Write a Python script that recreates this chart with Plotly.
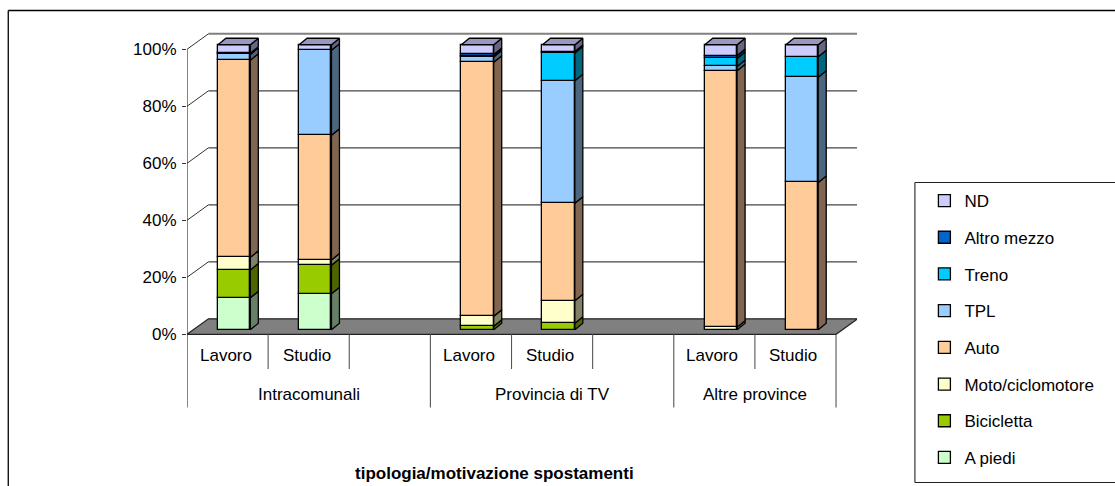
import plotly.graph_objects as go

# ---- data (percent of trips) ----
sub_labels = ["Lavoro", "Studio", "", "Lavoro", "Studio", "", "Lavoro", "Studio"]
group_labels = ["Intracomunali", "Provincia di TV", "Altre province"]
bar_slots = [0, 1, 3, 4, 6, 7]
series_names = ["A piedi", "Bicicletta", "Moto/ciclomotore", "Auto", "TPL", "Treno", "Altro mezzo", "ND"]
a_piedi = [11.2, 12.6, 0, 0, 0, 0]
bicicletta = [9.8, 10.0, 1.2, 2.3, 0, 0]
moto = [4.4, 1.9, 3.5, 7.9, 0.9, 0]
auto = [69.2, 43.7, 89.2, 34.2, 90.0, 51.7]
tpl = [2.0, 29.9, 1.8, 43.0, 1.5, 36.9]
treno = [0.2, 0, 0.2, 9.7, 2.8, 7.2]
altro = [0.2, 0, 0.7, 0.5, 1.0, 0]
nd = [3.0, 1.9, 3.4, 2.4, 3.8, 4.2]
series_values = [a_piedi, bicicletta, moto, auto, tpl, treno, altro, nd]
front_colors = ["#CCFFCC", "#99CC00", "#FFFFCC", "#FFCC99", "#99CCFF", "#00CCFF", "#0066CC", "#CCCCFF"]
side_colors = ["#668066", "#4D6600", "#808066", "#806650", "#4D6680", "#006680", "#003366", "#666680"]
top_color = "#9999BF"
y_ticks = [0, 20, 40, 60, 80, 100]

# ---- geometry of the fake 3-D box ----
FONT = "Liberation Sans, Arial, sans-serif"
FS = 17
L, R, T, B = 186.5, 857.5, 32.0, 408.0      # plot area in page pixels
PX_X, PX_Y, Y0 = 81.25, 2.85, 334.3         # pixels per category / per percent, 0% row
to_y = lambda pix: (Y0 - pix) / PX_Y
X_MIN, X_MAX = -0.5, -0.5 + (R - L) / PX_X
BACK_DX, BACK_DY = 21.5 / PX_X, 15.5 / PX_Y  # back wall offset
BAR_SHIFT, BAR_LIFT = 6.6 / PX_X, 1.6        # bars stand inside the floor
BAR_W = 32.4 / PX_X
SIDE_DX, SIDE_DY = 8.0 / PX_X, 6.5 / PX_Y    # depth of a bar
paper_x = lambda p: (p - L) / (R - L)
paper_y = lambda p: (B - p) / (B - T)
INK = "#111111"

fig = go.Figure()
bar_x = [s + BAR_SHIFT for s in bar_slots]
cum = [BAR_LIFT] * len(bar_slots)
for rank, (name, vals, fc, sc) in enumerate(zip(series_names, series_values, front_colors, side_colors)):
    keep = [i for i, v in enumerate(vals) if v > 0]
    fig.add_trace(go.Bar(
        x=[bar_x[i] for i in keep], y=[vals[i] for i in keep], base=[cum[i] for i in keep],
        width=BAR_W, name=name, legendgroup=name, legendrank=1000 - rank,
        marker=dict(color=fc, line=dict(color="#000000", width=1.3)),
        hovertemplate=name + ": %{y}%<extra></extra>",
    ))
    sx, sy = [], []
    for i in keep:
        x1 = bar_x[i] + BAR_W / 2
        y0, y1 = cum[i], cum[i] + vals[i]
        sx += [x1, x1 + SIDE_DX, x1 + SIDE_DX, x1, x1, None]
        sy += [y0, y0 + SIDE_DY, y1 + SIDE_DY, y1, y0, None]
    fig.add_trace(go.Scatter(
        x=sx, y=sy, mode="lines", fill="toself", fillcolor=sc, legendgroup=name,
        line=dict(color="#000000", width=1.3), showlegend=False, hoverinfo="skip",
    ))
    for i in keep:
        cum[i] += vals[i]

tx, ty = [], []
for i, xc in enumerate(bar_x):
    x0, x1 = xc - BAR_W / 2, xc + BAR_W / 2
    tx += [x0, x0 + SIDE_DX, x1 + SIDE_DX, x1, x0, None]
    ty += [cum[i], cum[i] + SIDE_DY, cum[i] + SIDE_DY, cum[i], cum[i], None]
fig.add_trace(go.Scatter(x=tx, y=ty, mode="lines", fill="toself", fillcolor=top_color,
                         line=dict(color="#000000", width=1.3), showlegend=False,
                         hoverinfo="skip", legendgroup="ND"))

shapes = []
def seg(x0, y0, x1, y1, color=INK, width=1.0):
    shapes.append(dict(type="line", xref="x", yref="y", x0=x0, y0=y0, x1=x1, y1=y1,
                       layer="below", line=dict(color=color, width=width)))

# walls: gridlines on the back wall and their returns on the left wall
for v in y_ticks[1:]:
    top = v == 100
    seg(X_MIN + BACK_DX, v + BACK_DY, X_MAX, v + BACK_DY,
        "#808080" if top else "#444444", 2 if top else 1.2)
    seg(X_MIN, v, X_MIN + BACK_DX, v + BACK_DY, "#333333", 1)
# floor
xr = X_MIN + 8
shapes.append(dict(type="path", xref="x", yref="y", layer="below", fillcolor="#808080",
                   line=dict(color="#222222", width=1.2),
                   path=f"M{X_MIN},0 L{X_MIN+BACK_DX},{BACK_DY} L{xr+BACK_DX},{BACK_DY} L{xr},0 Z"))
# value axis and category separators
y_low1, y_low2 = to_y(369.0), to_y(407.5)
seg(X_MIN, 100, X_MIN, y_low2, "#222222", 1.1)
for k in range(1, 9):
    pos = X_MIN + k
    seg(pos, 0, pos, y_low2 if k in (3, 6, 8) else y_low1, "#555555", 1.1)

# chart frame (runs off the right and bottom of the page)
for x0, y0, x1, y1 in [(7.5, 10.5, 1116, 10.5), (7.5, 10.5, 7.5, 487)]:
    shapes.append(dict(type="line", xref="paper", yref="paper", x0=paper_x(x0), y0=paper_y(y0),
                       x1=paper_x(x1), y1=paper_y(y1), line=dict(color="#000000", width=1.3)))
# legend box
for x0, y0, x1, y1 in [(1116, 182.5, 915.5, 182.5), (915.5, 182.5, 915.5, 482.5), (915.5, 482.5, 1116, 482.5)]:
    shapes.append(dict(type="line", xref="paper", yref="paper", x0=paper_x(x0), y0=paper_y(y0),
                       x1=paper_x(x1), y1=paper_y(y1), line=dict(color="#222222", width=1.1)))

annotations = []
for k, lab in enumerate(sub_labels):
    if lab:
        annotations.append(dict(x=k - 0.025, y=to_y(355), xref="x", yref="y", text=lab, showarrow=False,
                                font=dict(family=FONT, size=FS, color="#000000")))
for lab, c in zip(group_labels, [1.0, 4.0, 6.5]):
    annotations.append(dict(x=c, y=to_y(394), xref="x", yref="y", text=lab, showarrow=False,
                            font=dict(family=FONT, size=FS, color="#000000")))
annotations.append(dict(x=paper_x(494), y=paper_y(473), xref="paper", yref="paper",
                        xanchor="center", yanchor="middle",
                        text="<b>tipologia/motivazione spostamenti</b>", showarrow=False,
                        font=dict(family=FONT, size=FS, color="#000000")))

fig.update_layout(
    width=1115, height=486,
    margin=dict(l=L, r=1115 - R, t=T, b=486 - B, pad=0, autoexpand=False),
    paper_bgcolor="#FFFFFF", plot_bgcolor="rgba(0,0,0,0)", barmode="overlay", bargap=0,
    xaxis=dict(range=[X_MIN, X_MAX], visible=False),
    yaxis=dict(range=[to_y(B), to_y(T)], tickvals=y_ticks, ticktext=[f"{v}%" for v in y_ticks],
               ticks="outside", ticklen=4, tickcolor="#333333", tickwidth=1, showgrid=False,
               zeroline=False, showline=False, ticklabelstandoff=2,
               tickfont=dict(family=FONT, size=FS, color="#000000")),
    legend=dict(x=paper_x(925), xanchor="left", y=paper_y(183), yanchor="top",
                traceorder="grouped", tracegroupgap=11.6, bgcolor="rgba(0,0,0,0)",
                borderwidth=0, font=dict(family=FONT, size=FS, color="#000000")),
    shapes=shapes, annotations=annotations,
)
fig.write_html("out.html", config={"displayModeBar": False},
               post_script="document.body.style.margin='0';document.documentElement.style.overflow='hidden';")
